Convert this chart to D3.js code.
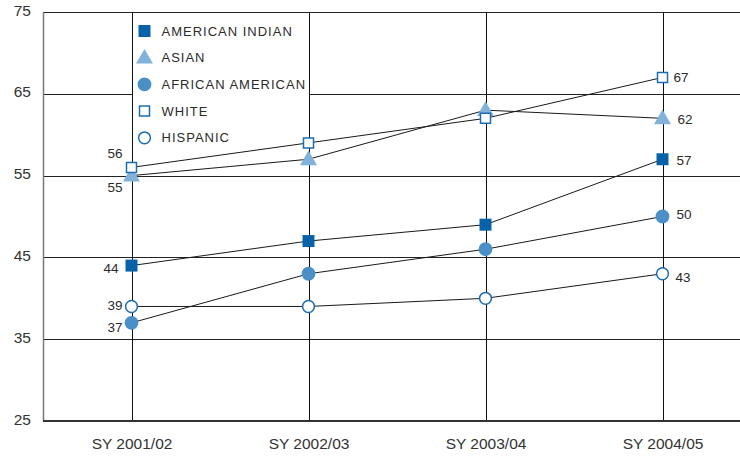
<!DOCTYPE html>
<html>
<head>
<meta charset="utf-8">
<script src="https://cdn.jsdelivr.net/npm/d3@7/dist/d3.min.js"></script>
<style>
  html, body { margin: 0; padding: 0; background: #fff; }
  svg { display: block; }
  text { font-family: "Liberation Sans", Arial, sans-serif; fill: #2b2b2b; }
</style>
</head>
<body>
<svg id="chart" width="740" height="457"></svg>
<script>
// School years on the x axis
const years = ["SY 2001/02", "SY 2002/03", "SY 2003/04", "SY 2004/05"];

// Percentages per group
const americanIndian  = [44, 47, 49, 57];
const asian           = [55, 57, 63, 62];
const africanAmerican = [37, 43, 46, 50];
const white           = [56, 59, 62, 67];
const hispanic        = [39, 39, 40, 43];

const seriesNames = ["AMERICAN INDIAN", "ASIAN", "AFRICAN AMERICAN", "WHITE", "HISPANIC"];
const yTicks = [25, 35, 45, 55, 65, 75];

const W = 740, H = 457;
const margin = { left: 43, top: 12, bottom: 36 };
const plotBottom = H - margin.bottom;

const svg = d3.select("#chart");

const x = d3.scalePoint().domain(years).range([margin.left, margin.left + 708]).padding(0.5);
const y = d3.scaleLinear().domain([25, 75]).range([plotBottom, margin.top]);

// Horizontal grid lines
svg.append("g").selectAll("line").data(yTicks.filter(t => t > 25)).join("line")
  .attr("x1", margin.left).attr("x2", W)
  .attr("y1", d => Math.round(y(d)) + 0.5).attr("y2", d => Math.round(y(d)) + 0.5)
  .attr("stroke", "#222").attr("stroke-width", 1);

// Vertical grid lines at each school year
svg.append("g").selectAll("line").data(years).join("line")
  .attr("x1", d => Math.round(x(d)) + 0.5).attr("x2", d => Math.round(x(d)) + 0.5)
  .attr("y1", margin.top).attr("y2", plotBottom)
  .attr("stroke", "#111").attr("stroke-width", 1);

// Left axis line
svg.append("line")
  .attr("x1", margin.left + 0.5).attr("x2", margin.left + 0.5)
  .attr("y1", margin.top).attr("y2", plotBottom)
  .attr("stroke", "#777").attr("stroke-width", 1.5);

// Y tick labels
const yAxis = svg.append("g")
  .attr("transform", `translate(${margin.left},0)`)
  .call(d3.axisLeft(y).tickValues(yTicks).tickSize(0).tickPadding(12));
yAxis.select(".domain").remove();
yAxis.selectAll("text")
  .attr("dy", "0.2em")
  .style("font-size", "15.5px").style("fill", "#333")
  .style("font-family", "'Liberation Sans', Arial, sans-serif");

// Bottom axis
svg.append("line")
  .attr("x1", margin.left).attr("x2", W)
  .attr("y1", plotBottom).attr("y2", plotBottom)
  .attr("stroke", "#333").attr("stroke-width", 2);

const xAxis = svg.append("g")
  .attr("transform", `translate(0,${plotBottom})`)
  .call(d3.axisBottom(x).tickSize(0).tickPadding(17));
xAxis.select(".domain").remove();
xAxis.selectAll("text")
  .style("font-size", "15.5px").style("fill", "#333")
  .style("font-family", "'Liberation Sans', Arial, sans-serif");

// Legend panel sits over the grid between the first two year lines
const legendX = Math.round(x(years[0])) + 1;
const legendW = Math.round(x(years[1])) - legendX;
svg.append("rect")
  .attr("x", legendX).attr("y", margin.top + 1)
  .attr("width", legendW).attr("height", 137)
  .attr("fill", "#fff");

const darkBlue = "#0862a8";
const lightBlue = "#80b2da";
const midBlue = "#4a8fc5";
const strokeBlue = "#1b6db2";

const symbolStyle = {
  "AMERICAN INDIAN":  { type: d3.symbolSquare,   size: 144, fill: darkBlue,  stroke: "none", sw: 0 },
  "ASIAN":            { type: d3.symbolTriangle, size: 125, fill: lightBlue, stroke: "none", sw: 0 },
  "AFRICAN AMERICAN": { type: d3.symbolCircle,   size: 150, fill: midBlue,   stroke: "none", sw: 0 },
  "WHITE":            { type: d3.symbolSquare,   size: 100, fill: "#fff",    stroke: strokeBlue, sw: 1.5 },
  "HISPANIC":         { type: d3.symbolCircle,   size: 110, fill: "#fff",    stroke: strokeBlue, sw: 1.5 }
};

function drawSymbol(g, name) {
  const s = symbolStyle[name];
  return g.append("path")
    .attr("d", d3.symbol().type(s.type).size(s.size)())
    .attr("fill", s.fill).attr("stroke", s.stroke).attr("stroke-width", s.sw);
}

const legend = svg.append("g");
seriesNames.forEach((name, i) => {
  const row = legend.append("g").attr("transform", `translate(${x(years[0]) + 13},${31 + i * 26.7})`);
  drawSymbol(row, name).attr("transform", name === "ASIAN" ? "translate(0,1)" : null);
  row.append("text")
    .attr("x", 17).attr("dy", "0.36em")
    .style("font-size", "13px").style("letter-spacing", "1px")
    .text(name);
});

const seriesValues = {
  "AMERICAN INDIAN": americanIndian,
  "ASIAN": asian,
  "AFRICAN AMERICAN": africanAmerican,
  "WHITE": white,
  "HISPANIC": hispanic
};

// Value label placement for the first and last points
const labelOffsets = {
  "AMERICAN INDIAN":  { first: [-13, 3],  last: [14, 1] },
  "ASIAN":            { first: [-9, 12],  last: [15, 1] },
  "AFRICAN AMERICAN": { first: [-9, 4],   last: [14, -2] },
  "WHITE":            { first: [-9, -14], last: [11, 0] },
  "HISPANIC":         { first: [-9, -1],  last: [13, 3] }
};

const line = d3.line().x((d, i) => x(years[i])).y(d => y(d));

// Connecting lines first, then markers drawn over them
const drawOrder = ["HISPANIC", "AFRICAN AMERICAN", "AMERICAN INDIAN", "ASIAN", "WHITE"];
drawOrder.forEach(name => {
  svg.append("path")
    .datum(seriesValues[name])
    .attr("d", line)
    .attr("fill", "none").attr("stroke", "#1a1a1a").attr("stroke-width", 1);
});

drawOrder.forEach(name => {
  const vals = seriesValues[name];
  vals.forEach((v, i) => {
    const g = svg.append("g").attr("transform", `translate(${x(years[i])},${y(v)})`);
    drawSymbol(g, name).attr("transform", name === "ASIAN" ? "translate(0,1)" : null);
  });
  const off = labelOffsets[name];
  svg.append("text")
    .attr("x", x(years[0]) + off.first[0]).attr("y", y(vals[0]) + off.first[1])
    .attr("text-anchor", "end").attr("dy", "0.36em")
    .style("font-size", "13.5px")
    .text(vals[0]);
  svg.append("text")
    .attr("x", x(years[years.length - 1]) + off.last[0]).attr("y", y(vals[vals.length - 1]) + off.last[1])
    .attr("text-anchor", "start").attr("dy", "0.36em")
    .style("font-size", "13.5px")
    .text(vals[vals.length - 1]);
});
</script>
</body>
</html>
